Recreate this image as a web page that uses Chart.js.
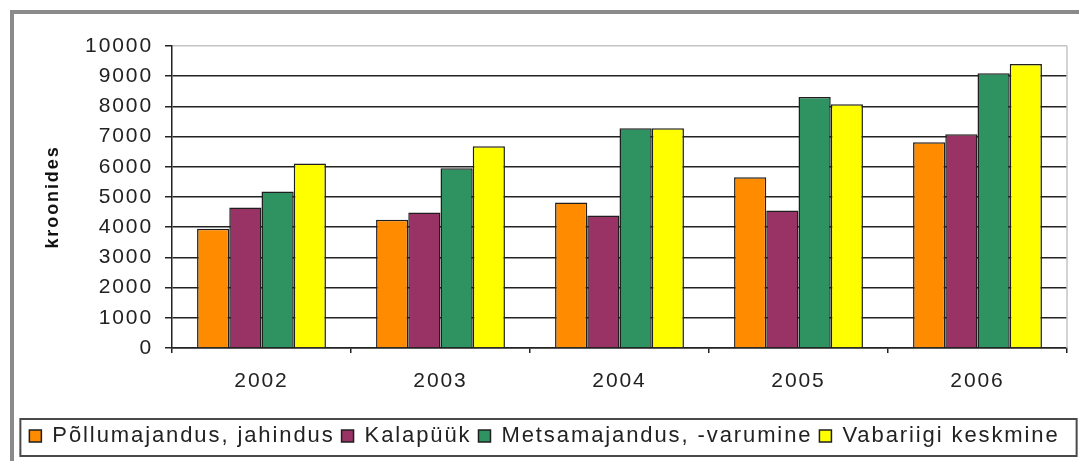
<!DOCTYPE html>
<html>
<head>
<meta charset="utf-8">
<script src="https://cdn.jsdelivr.net/npm/chart.js@4"></script>
<style>
  html, body { margin: 0; padding: 0; background: #fff; overflow: hidden; }
  #frame { position: absolute; left: 10px; top: 10px; width: 1200px; height: 600px;
           border-left: 4px solid #8a8a8a; border-top: 4px solid #8a8a8a; }
  #wrap { position: absolute; left: 0; top: 0; width: 1079px; height: 461px; }
</style>
</head>
<body>
<div id="frame"></div>
<div id="wrap"><canvas id="chart"></canvas></div>
<script>
// andmed (loetud pildilt)
const years = ['2002', '2003', '2004', '2005', '2006'];
const pollumajandus = [3950, 4250, 4820, 5650, 6810];
const kalapuuk = [4650, 4490, 4390, 4550, 7080];
const metsamajandus = [5180, 5950, 7280, 8310, 9100];
const vabariik = [6110, 6680, 7280, 8070, 9400];
const yMax = 10000;
const yStep = 1000;

const FONT = "'Liberation Sans', Arial, sans-serif";
const INK = '#222';

// laiem kiri nagu originaalis
const spacing = {
  id: 'spacing',
  beforeLayout(chart) { chart.ctx.letterSpacing = '1.9px'; },
  beforeDraw(chart) { chart.ctx.letterSpacing = '1.9px'; }
};

// joonise raam paremal ja legendi kast
const frames = {
  id: 'frames',
  afterDraw(chart) {
    const { ctx, chartArea, legend } = chart;
    ctx.save();
    ctx.strokeStyle = '#c4c4c4';
    ctx.lineWidth = 1.5;
    ctx.beginPath();
    ctx.moveTo(chartArea.right, chartArea.top);
    ctx.lineTo(chartArea.right, chartArea.bottom);
    ctx.stroke();

    const boxes = legend.legendHitBoxes;
    const first = boxes[0], last = boxes[boxes.length - 1];
    ctx.strokeStyle = '#4a4a4a';
    ctx.lineWidth = 2;
    ctx.strokeRect(first.left - 9, legend.top + 1,
      last.left + last.width - first.left + 26, legend.height - 2);
    ctx.restore();
  }
};

const ds = (label, data, color) => ({
  label, data,
  backgroundColor: color,
  borderColor: '#1f1f1f',
  borderWidth: 1.5,
});

new Chart(document.getElementById('chart'), {
  type: 'bar',
  data: {
    labels: years,
    datasets: [
      ds('Põllumajandus, jahindus', pollumajandus, '#ff8c00'),
      ds('Kalapüük', kalapuuk, '#993366'),
      ds('Metsamajandus, -varumine', metsamajandus, '#2e9361'),
      ds('Vabariigi keskmine', vabariik, '#ffff00'),
    ]
  },
  options: {
    responsive: true,
    maintainAspectRatio: false,
    animation: false,
    layout: { padding: { left: 22, right: 12, top: 46, bottom: 4 } },
    datasets: { bar: { categoryPercentage: 0.72, barPercentage: 1 } },
    plugins: {
      tooltip: { enabled: false },
      legend: {
        position: 'bottom',
        labels: {
          color: INK,
          font: { family: FONT, size: 22 },
          boxWidth: 12,
          boxHeight: 12,
          padding: 7,
        }
      }
    },
    scales: {
      x: {
        afterFit: s => { s.height = 70; },
        grid: { offset: true, drawOnChartArea: false, tickLength: 5, color: INK, lineWidth: 1.5 },
        border: { color: INK, width: 1.5 },
        ticks: { color: INK, padding: 16, font: { family: FONT, size: 21 } }
      },
      y: {
        min: 0,
        max: yMax,
        afterFit: s => { s.width = 150; },
        ticks: {
          stepSize: yStep,
          autoSkip: false,
          color: INK,
          padding: 12,
          font: { family: FONT, size: 21 },
          callback: v => String(v)
        },
        grid: {
          color: c => (c.tick && c.tick.value === yMax ? '#c4c4c4' : INK),
          tickColor: INK,
          tickLength: 7,
          lineWidth: 1.5
        },
        border: { color: INK, width: 1.5 },
        title: {
          display: true,
          text: 'kroonides',
          color: '#111',
          padding: { top: 20, bottom: 0 },
          font: { family: FONT, size: 18, weight: 'bold' }
        }
      }
    }
  },
  plugins: [spacing, frames]
});
</script>
</body>
</html>
